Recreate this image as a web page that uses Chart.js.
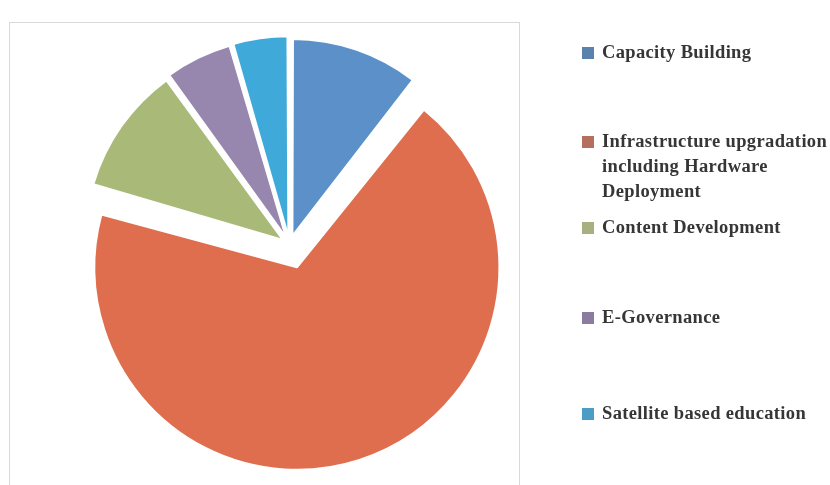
<!DOCTYPE html>
<html>
<head>
<meta charset="utf-8">
<script src="https://cdn.jsdelivr.net/npm/chart.js@4/dist/chart.umd.min.js"></script>
<style>
  html, body { margin: 0; padding: 0; background: #fff; }
  #wrap { position: relative; width: 830px; height: 485px; overflow: hidden; }
  #frame { position: absolute; left: 9px; top: 22px; width: 509px; height: 480px; border: 1px solid #d9d9d9; }
  #pie { position: absolute; left: 0; top: 0; }
  #legend { position: absolute; left: 0; top: 0; width: 830px; height: 485px; font: bold 18.5px "Liberation Serif", serif; letter-spacing: 0.35px; color: #363636; }
  .item { position: absolute; left: 582px; line-height: 25px; white-space: nowrap; }
  .item .box { position: absolute; left: 0; top: 7px; width: 12px; height: 12px; }
  .item .txt { margin-left: 20px; }
</style>
</head>
<body>
<div id="wrap">
  <div id="frame"></div>
  <canvas id="pie" width="830" height="485"></canvas>
  <div id="legend"></div>
</div>
<script>
// Budget share by component
const categories = ['Capacity Building', 'Infrastructure upgradation including Hardware Deployment', 'Content Development', 'E-Governance', 'Satellite based education'];
const legendLines = [['Capacity Building'], ['Infrastructure upgradation', 'including Hardware', 'Deployment'], ['Content Development'], ['E-Governance'], ['Satellite based education']];
const shares = [10.5, 69, 10.5, 5.5, 4.5];

const sliceColors = ['#5B90C9', '#DF6E4F', '#A9B978', '#9786AE', '#3FA9D9'];
const legendColors = ['#5A82AC', '#B46F5F', '#A7B07E', '#8C7BA0', '#4B9DC5'];
// chart.js moves a slice by offset/4, so the big one sits ~24px out, the rest ~8px
const sliceOffsets = [36, 96, 32, 32, 32];
const legendTops = [40, 129, 215, 305, 401];

const qs = (s) => document.querySelector(s);

qs('#legend').innerHTML = legendLines.map((lines, i) =>
  `<div class="item" style="top:${legendTops[i]}px"><span class="box" style="background:${legendColors[i]}"></span>` +
  `<div class="txt">${lines.join('<br>')}</div></div>`).join('');

// chart.js also grows each slice by its offset/4; even that out so every slice has the same radius
const sameRadius = {
  id: 'sameRadius',
  beforeDatasetDraw(chart, args) {
    const meta = args.meta;
    const maxOff = Math.max(...sliceOffsets);
    meta.data.forEach((arc, i) => { arc.outerRadius = meta.controller.outerRadius + (maxOff - sliceOffsets[i]) / 4; });
  },
};

new Chart(qs('#pie').getContext('2d'), {
  type: 'pie',
  data: {
    labels: categories,
    datasets: [{ data: shares, backgroundColor: sliceColors, borderColor: '#fff', borderWidth: 2, offset: sliceOffsets, hoverOffset: 0 }],
  },
  options: {
    responsive: false,
    animation: false,
    layout: { padding: { left: 62, top: 17, right: 313, bottom: 13 } },
    plugins: { legend: { display: false }, tooltip: { enabled: false } },
  },
  plugins: [sameRadius],
});
</script>
</body>
</html>
